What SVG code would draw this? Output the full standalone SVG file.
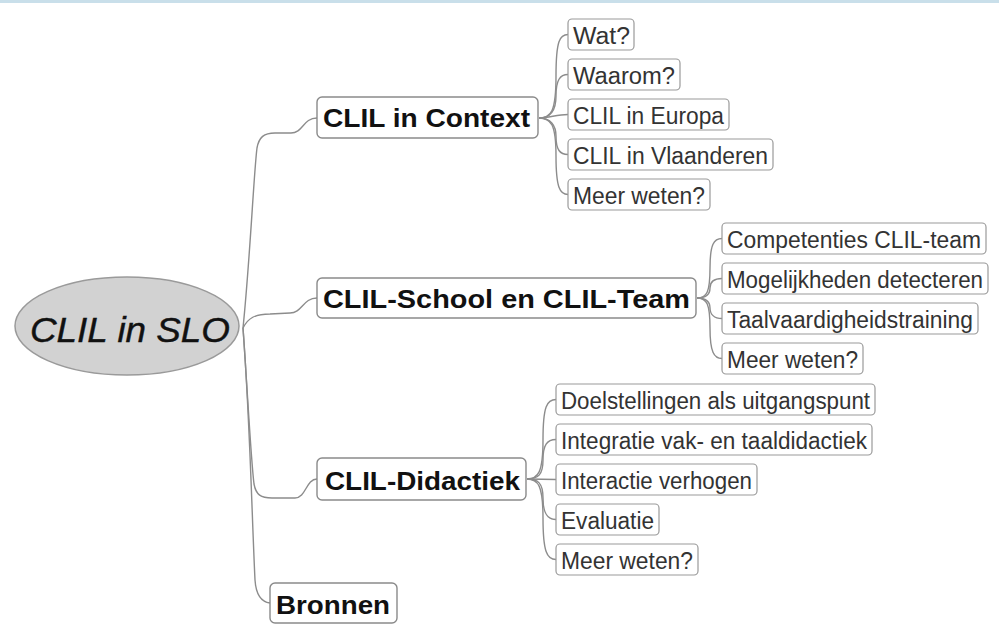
<svg xmlns="http://www.w3.org/2000/svg" width="999" height="628" viewBox="0 0 999 628">
<style>
.bg{fill:#ffffff}
.band{fill:#c9dfea}
.root{fill:#d2d2d2;stroke:#9a9a9a;stroke-width:1.5}
.roott{font-family:"Liberation Sans",Arial,sans-serif;font-style:italic;font-size:35px;fill:#111;stroke:#111;stroke-width:0.4}
.main{fill:#ffffff;stroke:#8a8a8a;stroke-width:1.4}
.maint{font-family:"Liberation Sans",Arial,sans-serif;font-weight:bold;font-size:25px;fill:#111}
.sub{fill:#ffffff;stroke:#9a9a9a;stroke-width:1.2}
.subt{font-family:"Liberation Sans",Arial,sans-serif;font-size:23px;fill:#333}
.c{fill:none;stroke:#8c8c8c;stroke-width:1.4}
</style>
<rect class="bg" x="0" y="0" width="999" height="628"/>
<rect class="band" x="0" y="0" width="999" height="3"/>
<g id="connectors">
<path class="c" d="M243 328 C250 260 254 170 257 148 C259 137 264 133 275 133 L291 133 C303 133 303 118 317 118"/>
<path class="c" d="M243 328 C248 318 255 314 270 314 L290 313 C302 313 303 298 317 298"/>
<path class="c" d="M243 328 C248 400 251 460 254 484 C256 495 261 498 272 498 L295 498 C306 498 306 479 317 479"/>
<path class="c" d="M243 328 C250 420 252 520 255 580 C256 595 262 602 270 603"/>
<path class="c" d="M539 118 C551 118 556 112 556 76 C556 40 560 34.5 568 34.5"/>
<path class="c" d="M539 118 C551 118 556 110 556 96 C556 80 560 74.5 568 74.5"/>
<path class="c" d="M539 118 C550 118 556 114.5 568 114.5"/>
<path class="c" d="M539 118 C551 118 556 126 556 136 C556 150 560 154.5 568 154.5"/>
<path class="c" d="M539 118 C551 118 556 124 556 156 C556 188 560 194.5 568 194.5"/>
<path class="c" d="M697 298 C707 298 710 292 710 268 C710 244 714 238.5 722 238.5"/>
<path class="c" d="M697 298 C707 298 710 294 710 288 C710 282 714 278.5 722 278.5"/>
<path class="c" d="M697 298 C707 298 710 302 710 308 C710 314 714 318.5 722 318.5"/>
<path class="c" d="M697 298 C707 298 710 304 710 328 C710 352 714 358.5 722 358.5"/>
<path class="c" d="M527 479 C538 479 543 473 543 440 C543 406 547 399.5 556 399.5"/>
<path class="c" d="M527 479 C538 479 543 475 543 460 C543 445 547 439.5 556 439.5"/>
<path class="c" d="M527 479 L556 479.5"/>
<path class="c" d="M527 479 C538 479 543 483 543 498 C543 513 547 519.5 556 519.5"/>
<path class="c" d="M527 479 C538 479 543 485 543 518 C543 552 547 559.5 556 559.5"/>
</g>
<g id="root">
<ellipse class="root" cx="127" cy="326" rx="112" ry="49"/>
<text class="roott" x="30" y="342" textLength="200" lengthAdjust="spacingAndGlyphs">CLIL in SLO</text>
</g>
<g id="n-context">
<rect class="main" x="317" y="97" width="221" height="41" rx="5"/>
<text class="maint" x="323" y="127" textLength="207" lengthAdjust="spacingAndGlyphs">CLIL in Context</text>
</g>
<g id="n-school">
<rect class="main" x="317" y="278" width="379" height="40" rx="5"/>
<text class="maint" x="323" y="308" textLength="367" lengthAdjust="spacingAndGlyphs">CLIL-School en CLIL-Team</text>
</g>
<g id="n-didactiek">
<rect class="main" x="317" y="458" width="209" height="42" rx="5"/>
<text class="maint" x="325" y="490" textLength="195" lengthAdjust="spacingAndGlyphs">CLIL-Didactiek</text>
</g>
<g id="n-bronnen">
<rect class="main" x="270" y="583" width="127" height="40" rx="5"/>
<text class="maint" x="276" y="614" textLength="114" lengthAdjust="spacingAndGlyphs">Bronnen</text>
</g>
<g id="n-wat">
<rect class="sub" x="568" y="19" width="66" height="31" rx="4"/>
<text class="subt" x="573" y="43.5" textLength="57" lengthAdjust="spacingAndGlyphs">Wat?</text>
</g>
<g id="n-waarom">
<rect class="sub" x="568" y="59" width="112" height="31" rx="4"/>
<text class="subt" x="573" y="83.5" textLength="102" lengthAdjust="spacingAndGlyphs">Waarom?</text>
</g>
<g id="n-europa">
<rect class="sub" x="568" y="99" width="161" height="31" rx="4"/>
<text class="subt" x="573" y="123.5" textLength="151" lengthAdjust="spacingAndGlyphs">CLIL in Europa</text>
</g>
<g id="n-vlaanderen">
<rect class="sub" x="568" y="139" width="205" height="31" rx="4"/>
<text class="subt" x="573" y="163.5" textLength="195" lengthAdjust="spacingAndGlyphs">CLIL in Vlaanderen</text>
</g>
<g id="n-meer1">
<rect class="sub" x="568" y="179" width="142" height="31" rx="4"/>
<text class="subt" x="573" y="203.5" textLength="132" lengthAdjust="spacingAndGlyphs">Meer weten?</text>
</g>
<g id="n-competenties">
<rect class="sub" x="722" y="223" width="264" height="31" rx="4"/>
<text class="subt" x="727" y="247.5" textLength="254" lengthAdjust="spacingAndGlyphs">Competenties CLIL-team</text>
</g>
<g id="n-mogelijkheden">
<rect class="sub" x="722" y="263" width="266" height="31" rx="4"/>
<text class="subt" x="727" y="287.5" textLength="256" lengthAdjust="spacingAndGlyphs">Mogelijkheden detecteren</text>
</g>
<g id="n-taal">
<rect class="sub" x="722" y="303" width="256" height="31" rx="4"/>
<text class="subt" x="727" y="327.5" textLength="246" lengthAdjust="spacingAndGlyphs">Taalvaardigheidstraining</text>
</g>
<g id="n-meer2">
<rect class="sub" x="722" y="343" width="141" height="31" rx="4"/>
<text class="subt" x="727" y="367.5" textLength="131" lengthAdjust="spacingAndGlyphs">Meer weten?</text>
</g>
<g id="n-doelstellingen">
<rect class="sub" x="556" y="384" width="319" height="31" rx="4"/>
<text class="subt" x="561" y="408.5" textLength="309" lengthAdjust="spacingAndGlyphs">Doelstellingen als uitgangspunt</text>
</g>
<g id="n-integratie">
<rect class="sub" x="556" y="424" width="316" height="31" rx="4"/>
<text class="subt" x="561" y="448.5" textLength="306" lengthAdjust="spacingAndGlyphs">Integratie vak- en taaldidactiek</text>
</g>
<g id="n-interactie">
<rect class="sub" x="556" y="464" width="201" height="31" rx="4"/>
<text class="subt" x="561" y="488.5" textLength="191" lengthAdjust="spacingAndGlyphs">Interactie verhogen</text>
</g>
<g id="n-evaluatie">
<rect class="sub" x="556" y="504" width="103" height="31" rx="4"/>
<text class="subt" x="561" y="528.5" textLength="93" lengthAdjust="spacingAndGlyphs">Evaluatie</text>
</g>
<g id="n-meer3">
<rect class="sub" x="556" y="544" width="142" height="31" rx="4"/>
<text class="subt" x="561" y="568.5" textLength="132" lengthAdjust="spacingAndGlyphs">Meer weten?</text>
</g>
</svg>
